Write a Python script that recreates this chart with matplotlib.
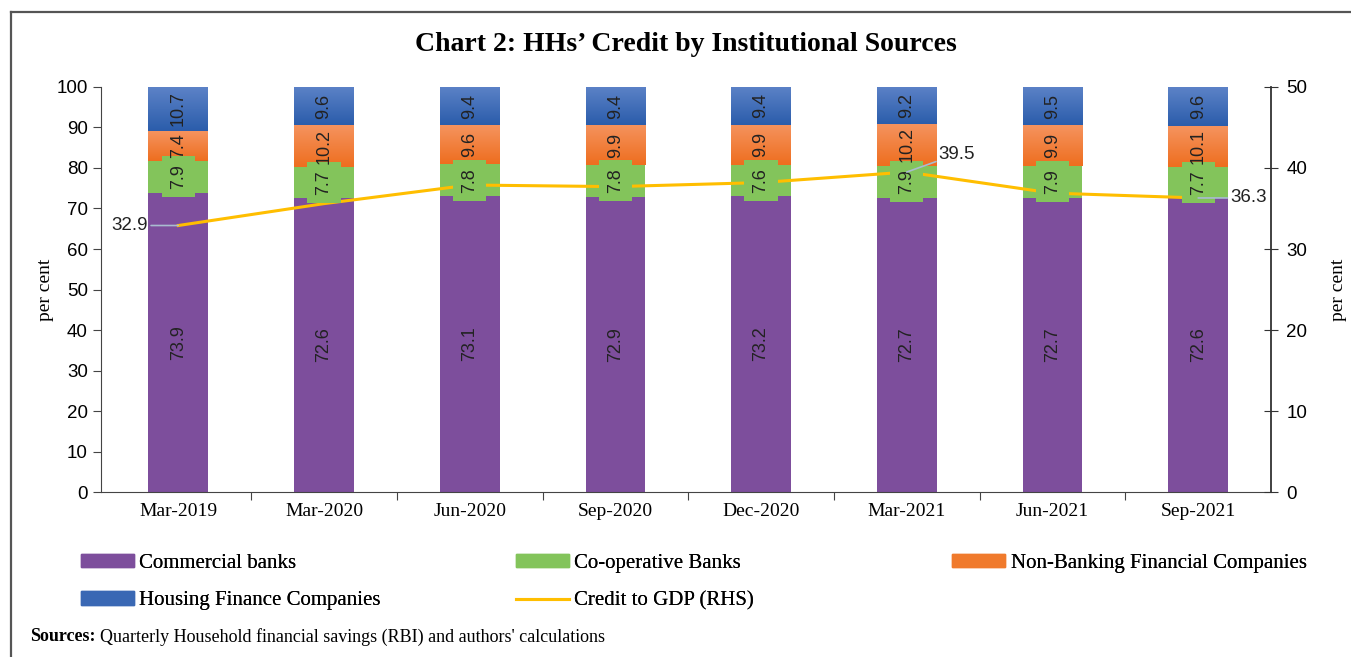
import matplotlib.pyplot as plt
import numpy as np
from matplotlib.colors import LinearSegmentedColormap
from matplotlib.patches import Patch
from matplotlib.lines import Line2D

periods = ['Mar-2019', 'Mar-2020', 'Jun-2020', 'Sep-2020', 'Dec-2020',
           'Mar-2021', 'Jun-2021', 'Sep-2021']
commercial = [73.9, 72.6, 73.1, 72.9, 73.2, 72.7, 72.7, 72.6]
cooperative = [7.9, 7.7, 7.8, 7.8, 7.6, 7.9, 7.9, 7.7]
nbfc = [7.4, 10.2, 9.6, 9.9, 9.9, 10.2, 9.9, 10.1]
hfc = [10.7, 9.6, 9.4, 9.4, 9.4, 9.2, 9.5, 9.6]
credit_gdp = [32.9, 35.6, 37.9, 37.7, 38.2, 39.5, 36.9, 36.3]

SERIF = 'Liberation Serif'
NARROW = ['Liberation Sans Narrow', 'Liberation Sans']
purple = '#7D4E9C'
green = '#83C45B'
orange = '#F07A2C'
blue = '#3A68B4'
gold = '#FFBE00'

fig = plt.figure(figsize=(13.51, 6.57), dpi=100)
ax = fig.add_axes([0.0748, 0.2511, 0.8660, 0.6165])
ax2 = ax.twinx()

x = np.arange(len(periods))
w = 0.41
b1 = np.array(commercial)
b2 = b1 + np.array(cooperative)
b3 = b2 + np.array(nbfc)

bars_cb = ax.bar(x, commercial, w, color=purple, zorder=2)
bars_co = ax.bar(x, cooperative, w, bottom=b1, color=green, zorder=2)
bars_nb = ax.bar(x, nbfc, w, bottom=b2, color=orange, zorder=2)
bars_hf = ax.bar(x, hfc, w, bottom=b3, color=blue, zorder=2)


def shade(bars, top, bottom):
    # vertical gradient clipped to each bar
    cmap = LinearSegmentedColormap.from_list('g', [bottom, top])
    grad = np.linspace(0, 1, 64).reshape(-1, 1)
    for p in bars:
        x0, y0 = p.get_x(), p.get_y()
        im = ax.imshow(grad, extent=[x0, x0 + p.get_width(), y0, y0 + p.get_height()],
                       origin='lower', aspect='auto', cmap=cmap, zorder=2.1)
        im.set_clip_path(p)


shade(bars_nb, '#F5935E', '#EE6E1F')
shade(bars_hf, '#5C82C7', '#2B5DAB')

ax.set_xlim(-0.53, 7.5)
ax.set_ylim(0, 100)
ax.set_yticks(np.arange(0, 101, 10))
ax.set_xticks(np.arange(0.5, 7, 1))
ax.set_xticklabels([])
ax.set_xticks(x, minor=True)
ax.set_xticklabels(periods, minor=True, fontfamily=SERIF, fontsize=14)
ax.tick_params(axis='x', which='major', length=6, direction='out', color='#444')
ax.tick_params(axis='x', which='minor', length=0, pad=8)
ax.tick_params(axis='y', length=6, direction='out', color='#444', labelsize=13.5)
for t in ax.get_yticklabels():
    t.set_fontfamily(NARROW)
ax.set_ylabel('per cent', fontfamily=SERIF, fontsize=14, labelpad=2)
for s in ['top', 'right']:
    ax.spines[s].set_visible(False)
ax.spines['left'].set_color('#444')
ax.spines['bottom'].set_color('#444')

# credit to GDP on the right-hand scale
ax2.plot(x, credit_gdp, color=gold, lw=2.2, zorder=3)
ax2.set_ylim(0, 50)
ax2.set_yticks(np.arange(0, 51, 10))
ax2.tick_params(axis='y', length=10, direction='inout', color='#333', labelsize=13.5, pad=6)
for t in ax2.get_yticklabels():
    t.set_fontfamily(NARROW)
ax2.set_ylabel('per cent', fontfamily=SERIF, fontsize=14, labelpad=16)
for s in ['top', 'left', 'bottom']:
    ax2.spines[s].set_visible(False)
ax2.spines['right'].set_color('#333')
ax2.spines['right'].set_linewidth(1.3)

# segment labels, placed on the top axes so they sit over the line
lab = dict(rotation=90, ha='center', va='center', fontsize=13,
           fontfamily=NARROW, color='#222', transform=ax.transData, zorder=5)
for i in x:
    ax2.text(i, commercial[i] / 2, f'{commercial[i]:.1f}', **lab)
    ax2.text(i, b1[i] + cooperative[i] / 2, f'{cooperative[i]:.1f}',
             bbox=dict(boxstyle='square,pad=0.45', fc=green, ec='none'), **lab)
    ax2.text(i, b2[i] + nbfc[i] / 2, f'{nbfc[i]:.1f}', **lab)
    ax2.text(i, b3[i] + hfc[i] / 2, f'{hfc[i]:.1f}', **lab)

leader = dict(arrowstyle='-', color='#A9BCD0', lw=1.2, shrinkA=0, shrinkB=0)
for i, dx, dy, ha, va in [(0, -30, 0, 'right', 'center'),
                          (5, 32, 18, 'left', 'center'),
                          (7, 32, 0, 'left', 'center')]:
    ax2.annotate(f'{credit_gdp[i]:.1f}', (x[i], credit_gdp[i]),
                 xytext=(dx, dy), textcoords='offset pixels', ha=ha, va=va,
                 fontsize=13.5, fontfamily=NARROW, color='#222',
                 arrowprops=leader, zorder=6)

fig.text(0.508, 0.932, "Chart 2: HHs\u2019 Credit by Institutional Sources",
         ha='center', va='center', fontfamily=SERIF, fontweight='bold', fontsize=20)

# legend laid out in three fixed columns
handles = [Patch(color=purple), Patch(color='#3A68B4'), Patch(color=green),
           Line2D([], [], color=gold, lw=2.2), Patch(color=orange)]
names = ['Commercial banks', 'Housing Finance Companies', 'Co-operative Banks',
         'Credit to GDP (RHS)', 'Non-Banking Financial Companies']
cols = [(0.046, [0, 1]), (0.368, [2, 3]), (0.691, [4])]
for xpos, idx in cols:
    leg = fig.legend([handles[k] for k in idx], [names[k] for k in idx],
                     loc='upper left', bbox_to_anchor=(xpos, 0.186),
                     frameon=False, handlelength=2.55, handleheight=0.6,
                     handletextpad=0.25, labelspacing=0.9,
                     prop={'family': SERIF, 'size': 15})
    fig.add_artist(leg)

fig.text(0.022, 0.031, 'Sources:', fontfamily=SERIF, fontweight='bold', fontsize=13,
         va='center', ha='left')
fig.text(0.074, 0.031, 'Quarterly Household financial savings (RBI) and authors\' calculations',
         fontfamily=SERIF, fontsize=13, va='center', ha='left')

# outer frame
fig.add_artist(Line2D([0.0081, 0.0081], [0, 0.9817], transform=fig.transFigure,
                      color='#555', lw=1.6))
fig.add_artist(Line2D([0.0081, 1], [0.9817, 0.9817], transform=fig.transFigure,
                      color='#555', lw=1.6))

fig.savefig('out.png', dpi=100)
